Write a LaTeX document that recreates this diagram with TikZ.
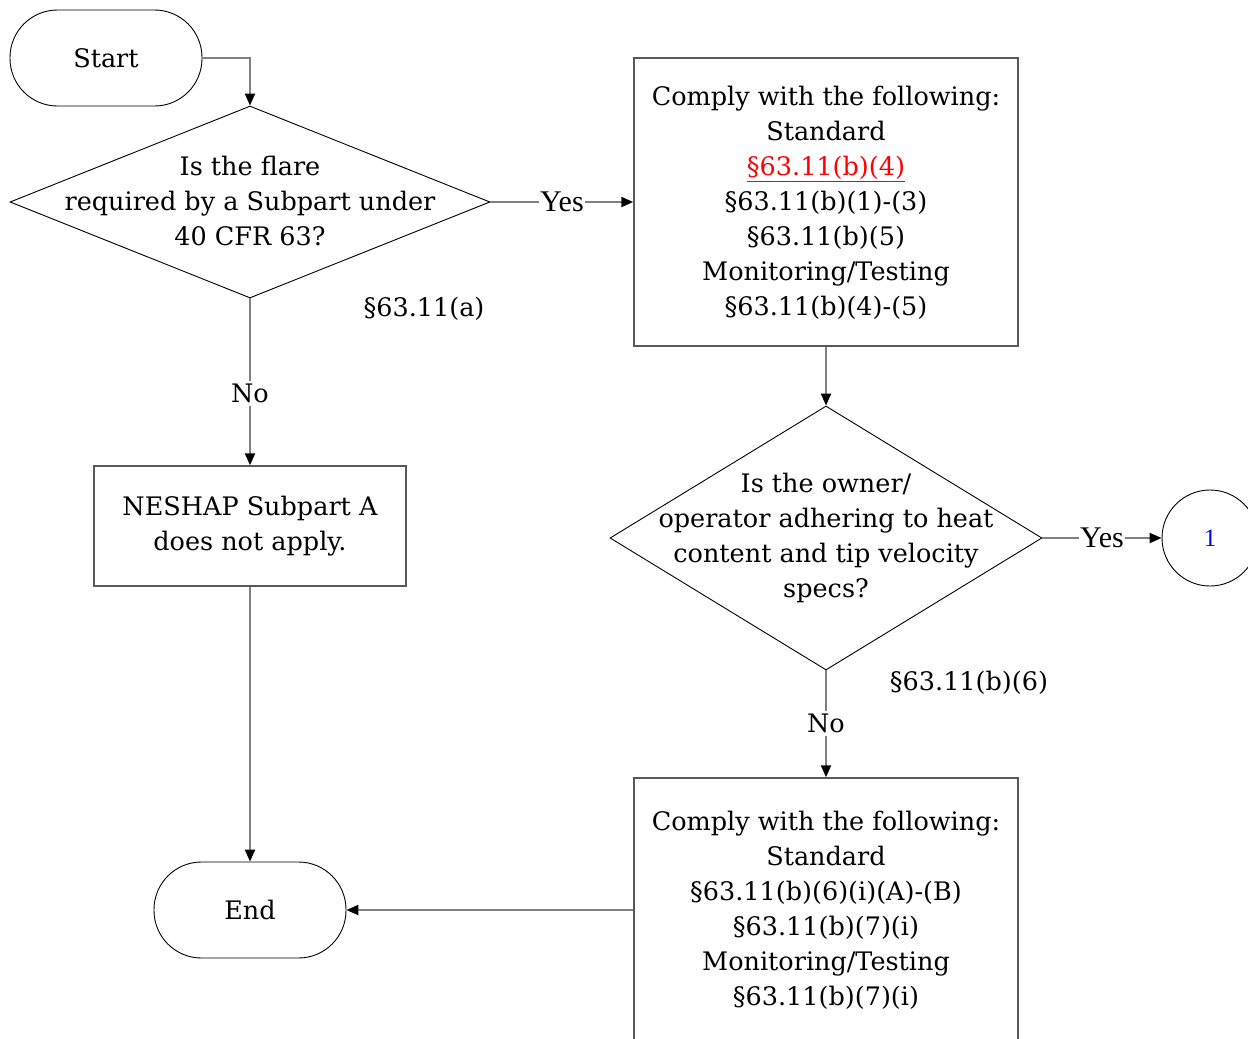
\documentclass[tikz,border=0pt]{standalone}
\usepackage{fontspec}
\setmainfont{DejaVu Serif}
\newfontfamily\timesf{Liberation Serif}
\usetikzlibrary{arrows.meta,shapes.geometric}
\begin{document}
\begin{tikzpicture}[x=1pt,y=-1pt,
 every node/.style={font=\fontsize{25.5}{35}\selectfont},
 shapeline/.style={draw=black, line width=0.9pt},
 conn/.style={draw=black!50, line width=2.2pt},
 arr/.style={conn,-{Triangle[length=12pt,width=10pt,color=black]}},
 box/.style={draw=black!65, line width=1.5pt, rectangle, inner sep=0},
 term/.style={shapeline, rectangle, rounded corners=47.5pt, minimum width=192pt, minimum height=96pt, inner sep=0},
 dec/.style={shapeline, diamond, inner sep=0},
 txt/.style={align=center, inner sep=0},
 yeslab/.style={fill=white, inner sep=1.5pt, font=\timesf\fontsize{30}{30}\selectfont},
 nolab/.style={fill=white, inner sep=3pt}
]
\useasboundingbox (0,0) rectangle (1248,1039);
\fill[white] (0,0) rectangle (1248,1039);

% shapes
\node[term] (start) at (106,58) {Start};
\node[dec, minimum width=480pt, minimum height=192pt] (d1) at (250,202) {};
\node[txt] (d1t) at (250,201) {Is the flare\\required by a Subpart under\\40 CFR 63?};
\node[box, minimum width=384pt, minimum height=288pt] (b1) at (826,202) {};
\node[txt] (b1t) at (826,203) {Comply with the following:\\Standard\\{\color{red}\underline{§63.11(b)(4)}}\\§63.11(b)(1)-(3)\\§63.11(b)(5)\\Monitoring/Testing\\§63.11(b)(4)-(5)};
\node[box, minimum width=312pt, minimum height=120pt] (nes) at (250,526) {};
\node[txt] (nest) at (250,526) {NESHAP Subpart A\\does not apply.};
\node[dec, minimum width=432pt, minimum height=264pt] (d2) at (826,538) {};
\node[txt] (d2t) at (826,538) {Is the owner/\\operator adhering to heat\\content and tip velocity\\specs?};
\node[shapeline, circle, minimum size=96pt, inner sep=0, text=blue, font=\timesf\fontsize{25}{25}\selectfont] (c1) at (1210,538) {1};
\node[box, minimum width=384pt, minimum height=264pt] (b2) at (826,910) {};
\node[txt] (b2t) at (826,910) {Comply with the following:\\Standard\\§63.11(b)(6)(i)(A)-(B)\\§63.11(b)(7)(i)\\Monitoring/Testing\\§63.11(b)(7)(i)};
\node[term] (endn) at (250,910) {End};

% side notes
\node[txt] (n1) at (424,309) {§63.11(a)};
\node[txt] (n2) at (969,683) {§63.11(b)(6)};

% connectors
\draw[arr] (start.east) -| (d1.north);
\draw[arr] (d1.east) -- node[yeslab] (y1) {Yes} (b1.west);
\draw[arr] (d1.south) -- node[nolab, pos=0.57] (no1) {No} (nes.north);
\draw[arr] (nes.south) -- (endn.north);
\draw[arr] (b1.south) -- (d2.north);
\draw[arr] (d2.east) -- node[yeslab] (y2) {Yes} (c1.west);
\draw[arr] (d2.south) -- node[nolab, pos=0.5] (no2) {No} (b2.north);
\draw[arr] (b2.west) -- (endn.east);
\end{tikzpicture}
\end{document}
